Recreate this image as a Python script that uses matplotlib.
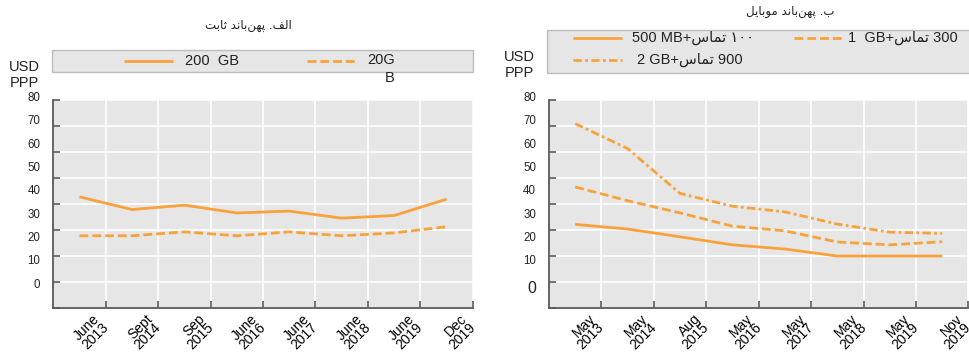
import matplotlib
matplotlib.use("Agg")
import matplotlib.pyplot as plt
from matplotlib.lines import Line2D
from matplotlib.patches import Rectangle
from matplotlib.transforms import blended_transform_factory, ScaledTranslation

# fixed broadband (left) and mobile broadband (right), USD PPP
fixed_periods = ["June\n2013", "Sept\n2014", "Sep\n2015", "June\n2016",
                 "June\n2017", "June\n2018", "June\n2019", "Dec\n2019"]
fixed_200gb = [42.7, 37.8, 39.5, 36.5, 37.2, 34.5, 35.5, 41.8]
fixed_20gb = [27.7, 27.7, 29.2, 27.7, 29.2, 27.7, 28.8, 31.2]

mobile_periods = ["May\n2013", "May\n2014", "Aug\n2015", "May\n2016",
                  "May\n2017", "May\n2018", "May\n2019", "Nov\n2019"]
mobile_500mb = [32.1, 30.3, 27.3, 24.2, 22.6, 19.9, 19.9, 19.9]
mobile_1gb = [46.5, 41.2, 36.5, 31.4, 29.6, 25.3, 24.2, 25.4]
mobile_2gb = [70.9, 61.3, 44.0, 39.1, 36.9, 32.2, 29.1, 28.6]

y_values = [0, 10, 20, 30, 40, 50, 60, 70, 80]

ORANGE = "#F9A23B"
BG = "#E6E6E6"
SPINE = "#5A5A5A"

# presentation forms: isolated, final, initial, medial
FORMS = {
    "ا": ("\uFE8D", "\uFE8E", None, None),
    "ب": ("\uFE8F", "\uFE90", "\uFE91", "\uFE92"),
    "پ": ("\uFB56", "\uFB57", "\uFB58", "\uFB59"),
    "ت": ("\uFE95", "\uFE96", "\uFE97", "\uFE98"),
    "ث": ("\uFE99", "\uFE9A", "\uFE9B", "\uFE9C"),
    "د": ("\uFEA9", "\uFEAA", None, None),
    "س": ("\uFEB1", "\uFEB2", "\uFEB3", "\uFEB4"),
    "ف": ("\uFED1", "\uFED2", "\uFED3", "\uFED4"),
    "ل": ("\uFEDD", "\uFEDE", "\uFEDF", "\uFEE0"),
    "م": ("\uFEE1", "\uFEE2", "\uFEE3", "\uFEE4"),
    "ن": ("\uFEE5", "\uFEE6", "\uFEE7", "\uFEE8"),
    "ه": ("\uFEE9", "\uFEEA", "\uFEEB", "\uFEEC"),
    "و": ("\uFEED", "\uFEEE", None, None),
    "ی": ("\uFBFC", "\uFBFD", "\uFBFE", "\uFBFF"),
}


def fa(s):
    out = []
    for i, ch in enumerate(s):
        if ch not in FORMS:
            if ch != "\u200c":
                out.append(ch)
            continue
        prev = s[i - 1] if i > 0 else ""
        nxt = s[i + 1] if i + 1 < len(s) else ""
        joins_prev = prev in FORMS and FORMS[prev][2] is not None
        joins_next = nxt in FORMS and FORMS[ch][2] is not None
        iso, fin, ini, med = FORMS[ch]
        if joins_prev and joins_next:
            out.append(med)
        elif joins_prev:
            out.append(fin)
        elif joins_next:
            out.append(ini)
        else:
            out.append(iso)
    return "".join(out[::-1])


FA_FONT = ["DejaVu Sans"]
MIX_FONT = ["Liberation Sans", "DejaVu Sans"]
plt.rcParams["font.family"] = MIX_FONT

W, H = 969, 362
fig = plt.figure(figsize=(W / 100, H / 100), dpi=100)


def fx(px):
    return px / W


def fy(py):
    return 1 - py / H


styles = {
    "solid": dict(color=ORANGE, lw=2.0, linestyle="-", solid_capstyle="butt"),
    "dash": dict(color=ORANGE, lw=2.0, linestyle=(0, (3.2, 1.4))),
    "dashdot": dict(color=ORANGE, lw=2.0, linestyle=(0, (3.0, 1.2, 1.0, 1.2))),
}


def panel(left_px, periods, series, zero_size, zero_pos):
    ax = fig.add_axes([fx(left_px), fy(307.7), 419.4 / W, 207.7 / H])
    ax.set_facecolor(BG)
    ax.set_xlim(0, len(periods))
    ax.set_ylim(0, 80)
    ax.set_axisbelow(True)
    ax.grid(color="white", lw=1.2)
    for side in ("top", "right"):
        ax.spines[side].set_visible(False)
    for side in ("left", "bottom"):
        ax.spines[side].set_color(SPINE)
        ax.spines[side].set_linewidth(1.3)

    xs = [i + 0.5 for i in range(len(periods))]
    for vals, key in series:
        ax.plot(xs, vals, **styles[key])

    ax.set_yticks(y_values)
    ax.set_yticklabels([])
    ax.tick_params(axis="y", direction="in", length=5, color=SPINE, width=1.2)
    ax.set_xticks(range(1, len(periods) + 1))
    ax.set_xticklabels(periods, rotation=45, ha="right", va="top",
                       rotation_mode="anchor", fontsize=10, linespacing=0.8)
    ax.tick_params(axis="x", direction="in", length=5, color=SPINE, width=1.2, pad=3)
    shift = ScaledTranslation(-13 / 100, 0, fig.dpi_scale_trans)
    for lab in ax.get_xticklabels():
        lab.set_transform(lab.get_transform() + shift)

    # value labels along the left axis
    tr = blended_transform_factory(ax.transAxes, ax.transData)
    for v in y_values:
        pos = 8.85 + 0.9 * v
        size = 8.3
        if v == 0:
            pos, size = zero_pos, zero_size
        ax.text(-0.031, pos, str(v), transform=tr, ha="right", va="center",
                fontsize=size, color="#222222")
    return ax


ax1 = panel(53.3, fixed_periods,
            [(fixed_200gb, "solid"), (fixed_20gb, "dash")], 8.3, 8.85)
ax2 = panel(549.0, mobile_periods,
            [(mobile_500mb, "solid"), (mobile_1gb, "dash"), (mobile_2gb, "dashdot")],
            11.5, 7.5)


def legend_box(x0, x1, y0, y1):
    fig.patches.append(Rectangle((fx(x0), fy(y1)), fx(x1) - fx(x0), fy(y0) - fy(y1),
                                 transform=fig.transFigure, facecolor=BG,
                                 edgecolor="#BDBDBD", lw=1.0))


def legend_entry(x0, x1, y, key, label, tx, **kw):
    fig.lines.append(Line2D([fx(x0), fx(x1)], [fy(y), fy(y)],
                            transform=fig.transFigure, **styles[key]))
    fig.text(fx(tx), fy(y), label, ha="left", va="center", fontsize=10.5,
             color="#222222", **kw)


# left panel header
fig.text(fx(248), fy(25), fa("الف. پهن‌باند ثابت"), ha="center", va="center",
         fontsize=8.5, family=FA_FONT, color="#222222")
legend_box(52.3, 472.7, 50, 72.3)
legend_entry(124, 173, 61, "solid", "200  GB", 185)
fig.lines.append(Line2D([fx(307), fx(355)], [fy(61), fy(61)],
                        transform=fig.transFigure, **styles["dash"]))
fig.text(fx(367), fy(52.5), "20G\nB", ha="left", va="top", fontsize=10.5,
         color="#222222", multialignment="right", linespacing=1.45)
fig.text(fx(24), fy(75), "USD\nPPP", ha="center", va="center", fontsize=10.5,
         linespacing=1.15, color="#222222")

# right panel header
fig.text(fx(790), fy(11), fa("ب. پهن‌باند موبایل"), ha="center", va="center",
         fontsize=8.5, family=FA_FONT, color="#222222")
legend_box(547, 975, 30, 72.5)
legend_entry(572.7, 621.7, 38.3, "solid", "500 MB+" + fa("تماس") + " ۱۰۰", 631.7)
legend_entry(794, 842, 38.3, "dash", "1  GB+" + fa("تماس") + " 300", 848)
legend_entry(572.7, 621.7, 60, "dashdot", "2 GB+" + fa("تماس") + " 900", 636.7)
fig.text(fx(519), fy(65), "USD\nPPP", ha="center", va="center", fontsize=10.5,
         linespacing=1.15, color="#222222")

fig.savefig("out.png", dpi=100)
